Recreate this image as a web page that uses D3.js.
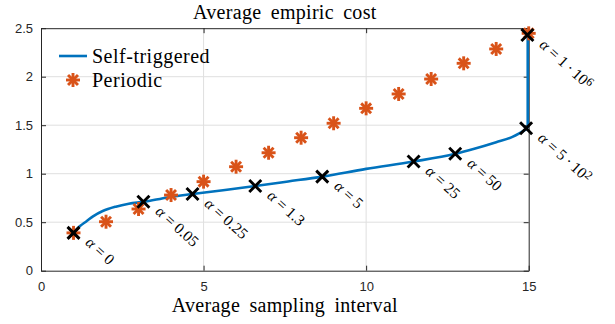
<!DOCTYPE html>
<html><head><meta charset="utf-8">
<script src="https://cdn.jsdelivr.net/npm/d3@7"></script>
<style>body{margin:0;background:#fff}svg{display:block}</style>
</head><body>
<svg id="c" width="615" height="324"></svg>
<script>
// ---- data ----
const selfX = [1, 1.2, 1.4, 1.6, 1.9, 2.3, 2.7, 3.15, 3.9, 4.66, 5.6, 6.59, 7.6, 8.65, 10, 11.46, 12.74, 13.3, 14.0, 14.5, 14.97, 14.97];
const selfY = [0.39, 0.46, 0.51, 0.56, 0.615, 0.66, 0.69, 0.71, 0.755, 0.79, 0.83, 0.873, 0.92, 0.97, 1.05, 1.125, 1.205, 1.255, 1.325, 1.38, 1.468, 2.43];
const periodicX = [1, 2, 3, 4, 5, 6, 7, 8, 9, 10, 11, 12, 13, 14, 15];
const periodicY = [0.39, 0.505, 0.636, 0.78, 0.918, 1.072, 1.216, 1.371, 1.52, 1.674, 1.822, 1.976, 2.138, 2.286, 2.447];
const alphaX = [1, 3.15, 4.66, 6.59, 8.65, 11.46, 12.74, 14.92, 14.96];
const alphaY = [0.39, 0.71, 0.79, 0.873, 0.97, 1.125, 1.205, 1.468, 2.43];
const alphaLabels = [["0"], ["0.05"], ["0.25"], ["1.3"], ["5"], ["25"], ["50"], ["5 · 10", "2"], ["1 · 10", "6"]];
const xTicks = [0, 5, 10, 15];
const yTicks = [0, 0.5, 1, 1.5, 2, 2.5];

// ---- layout ----
const W = 615, H = 324;
const m = {left: 41, right: 86.3, top: 28.2, bottom: 53.3};
const x = d3.scaleLinear().domain([0, 15]).range([m.left, W - m.right]);
const y = d3.scaleLinear().domain([0, 2.5]).range([H - m.bottom, m.top]);
const svg = d3.select("#c");
const axisCol = "#262626";
const serif = "'Liberation Serif','Times New Roman',serif";
const sans = "'Liberation Sans',Arial,Helvetica,sans-serif";

// grid
svg.append("g").selectAll("line").data(xTicks.slice(1, -1)).join("line")
  .attr("x1", d => x(d)).attr("x2", d => x(d)).attr("y1", y(0)).attr("y2", y(2.5))
  .attr("stroke", "#dfdfdf").attr("stroke-width", 1);
svg.append("g").selectAll("line").data(yTicks.slice(1, -1)).join("line")
  .attr("y1", d => y(d)).attr("y2", d => y(d)).attr("x1", x(0)).attr("x2", x(15))
  .attr("stroke", "#dfdfdf").attr("stroke-width", 1);

// axes
const xAxis = d3.axisBottom(x).tickValues(xTicks).tickSizeInner(-5).tickSizeOuter(0).tickPadding(11).tickFormat(d3.format("d"));
const yAxis = d3.axisLeft(y).tickValues(yTicks).tickSizeInner(-5).tickSizeOuter(0).tickPadding(8).tickFormat(d => String(d));
const gx = svg.append("g").attr("transform", `translate(0,${y(0)})`).call(xAxis);
const gy = svg.append("g").attr("transform", `translate(${x(0)},0)`).call(yAxis);
const gxt = svg.append("g").attr("transform", `translate(0,${y(2.5)})`).call(d3.axisTop(x).tickValues(xTicks).tickSizeInner(-5).tickSizeOuter(0).tickFormat(""));
const gyr = svg.append("g").attr("transform", `translate(${x(15)},0)`).call(d3.axisRight(y).tickValues(yTicks).tickSizeInner(-5).tickSizeOuter(0).tickFormat(""));
[gx, gy, gxt, gyr].forEach(g => {
  g.select(".domain").attr("stroke", axisCol).attr("stroke-width", 1);
  g.selectAll(".tick line").attr("stroke", axisCol);
  g.selectAll("text").attr("fill", axisCol).attr("font-family", sans).attr("font-size", 13);
});

// self-triggered line
const lineGen = d3.line().x(d => x(d[0])).y(d => y(d[1])).curve(d3.curveMonotoneX);
const pts = selfX.map((d, i) => [d, selfY[i]]);
svg.append("path").datum(pts.slice(0, -1)).attr("d", lineGen)
  .attr("fill", "none").attr("stroke", "#0072BD").attr("stroke-width", 2.6);
svg.append("path").datum(pts.slice(-2)).attr("d", d3.line().x(d => x(d[0])).y(d => y(d[1])))
  .attr("fill", "none").attr("stroke", "#0072BD").attr("stroke-width", 2.6);

// asterisk marker
function asterisk(g, cx, cy, r, col) {
  for (let k = 0; k < 4; k++) {
    const a = k * Math.PI / 4;
    g.append("line").attr("x1", cx - r * Math.cos(a)).attr("y1", cy - r * Math.sin(a))
      .attr("x2", cx + r * Math.cos(a)).attr("y2", cy + r * Math.sin(a))
      .attr("stroke", col).attr("stroke-width", 2.9);
  }
}
const pg = svg.append("g");
periodicX.forEach((d, i) => asterisk(pg, x(d), y(periodicY[i]), 7, "#D95319"));

// X markers
const xg = svg.append("g");
alphaX.forEach((d, i) => {
  const cx = x(d), cy = y(alphaY[i]), r = 6;
  xg.append("path").attr("d", `M${cx - r},${cy - r}L${cx + r},${cy + r}M${cx - r},${cy + r}L${cx + r},${cy - r}`)
    .attr("stroke", "#000").attr("stroke-width", 2.9).attr("fill", "none");
});

// alpha labels
alphaX.forEach((d, i) => {
  const px = x(d) + 11, py = y(alphaY[i]) + 11;
  const t = svg.append("text").attr("transform", `translate(${px},${py}) rotate(42)`)
    .attr("font-family", serif).attr("font-size", 15.5).attr("fill", "#000");
  t.append("tspan").attr("font-style", "italic").text("α");
  t.append("tspan").attr("dx", 4).text("=");
  t.append("tspan").attr("dx", 4).text(alphaLabels[i][0].replace(" · ", "\u2009·\u2009"));
  if (alphaLabels[i][1]) {
    t.append("tspan").attr("font-size", 12).attr("dy", -4).text(alphaLabels[i][1]);
  }
});

// title & labels
svg.append("text").attr("x", (x(0) + x(15)) / 2).attr("y", 18.5).attr("text-anchor", "middle")
  .attr("font-family", serif).attr("font-size", 20).attr("word-spacing", 4).attr("letter-spacing", 0.3)
  .attr("fill", "#000").text("Average empiric cost");
svg.append("text").attr("x", (x(0) + x(15)) / 2).attr("y", 312).attr("text-anchor", "middle")
  .attr("font-family", serif).attr("font-size", 20).attr("word-spacing", 4).attr("letter-spacing", 0.3)
  .attr("fill", "#000").text("Average sampling interval");

// legend
const lg = svg.append("g");
lg.append("line").attr("x1", 59).attr("x2", 87).attr("y1", 56).attr("y2", 56)
  .attr("stroke", "#0072BD").attr("stroke-width", 2.6);
asterisk(lg, 73, 80, 7, "#D95319");
lg.append("text").attr("x", 92).attr("y", 63).attr("font-family", serif).attr("font-size", 20).attr("letter-spacing", 0.5).text("Self-triggered");
lg.append("text").attr("x", 92).attr("y", 87).attr("font-family", serif).attr("font-size", 20).attr("letter-spacing", 0.5).text("Periodic");
</script>
</body></html>
